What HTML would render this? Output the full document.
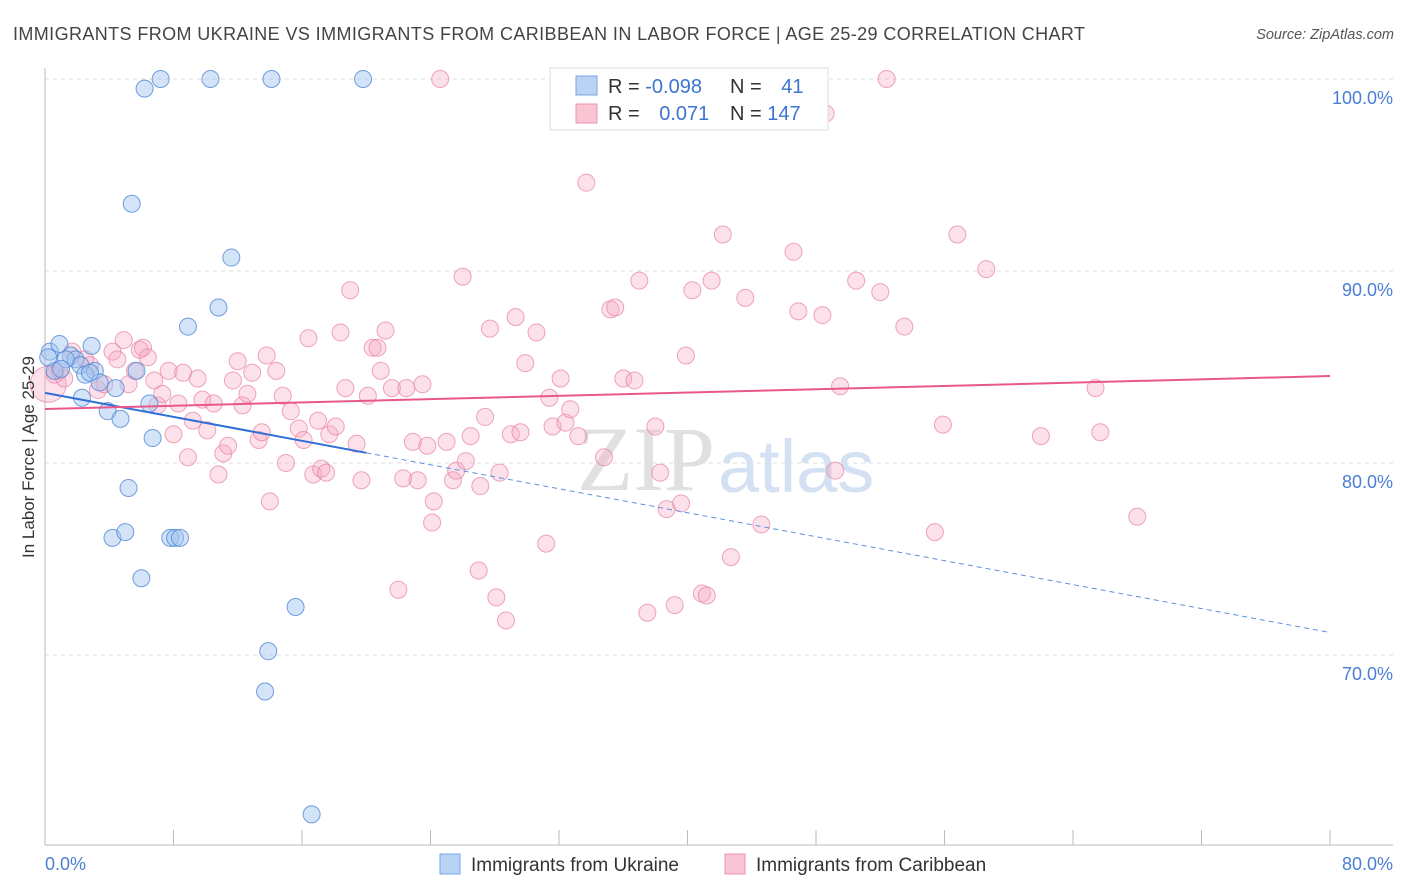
<!DOCTYPE html>
<html><head><meta charset="utf-8">
<style>
body{margin:0;background:#fff;font-family:"Liberation Sans",sans-serif;}
svg{display:block}
</style></head>
<body>
<svg id="chart" width="1406" height="892">
<text x="13" y="40" font-size="18" textLength="1072" fill="#444">IMMIGRANTS FROM UKRAINE VS IMMIGRANTS FROM CARIBBEAN IN LABOR FORCE | AGE 25-29 CORRELATION CHART</text>
<text x="1394" y="39" font-size="14.5" fill="#555" font-style="italic" text-anchor="end">Source: ZipAtlas.com</text>
<text x="715" y="490" font-size="92" fill="#e0e0e0" text-anchor="end" font-family="Liberation Serif">ZIP</text>
<text x="718" y="492" font-size="74" fill="#d3e1f3">atlas</text>
<g id="grid"></g><g id="axes"></g><g id="pts"></g><g id="trend"></g>
<g>
<rect x="550" y="68" width="278" height="62" fill="#fff" stroke="#ddd"/>
<rect x="576" y="76" width="21" height="19" fill="#b9d3f5" stroke="#7aa5e3"/>
<rect x="576" y="104" width="21" height="19" fill="#f9c5d5" stroke="#eb94b0"/>
<text x="608" y="93" font-size="20" fill="#333">R = <tspan fill="#3d74d0">-0.098</tspan></text>
<text x="730" y="93" font-size="20" fill="#333">N = <tspan fill="#3d74d0" dx="14">41</tspan></text>
<text x="608" y="120" font-size="20" fill="#333">R = <tspan fill="#3d74d0" dx="14">0.071</tspan></text>
<text x="730" y="120" font-size="20" fill="#333">N = <tspan fill="#3d74d0">147</tspan></text>
</g>
<g>
<rect x="440" y="854" width="20" height="20" fill="#b9d3f5" stroke="#7aa5e3"/>
<text x="471" y="871" font-size="19" fill="#333">Immigrants from Ukraine</text>
<rect x="725" y="854" width="20" height="20" fill="#f9c5d5" stroke="#eb94b0"/>
<text x="756" y="871" font-size="19" fill="#333">Immigrants from Caribbean</text>
</g>
<text transform="translate(34,457) rotate(-90)" font-size="17" fill="#333" text-anchor="middle">In Labor Force | Age 25-29</text>
</svg>
<script>
const yTicks=[100,90,80,70];
const yTickLabels=["100.0%","90.0%","80.0%","70.0%"];
const xEndLabels=["0.0%","80.0%"];
const ukraineX=[0.3,0.9,0.6,1.6,1.9,2.9,2.2,3.1,2.5,3.4,4.4,2.3,3.9,4.7,5.7,6.5,6.7,5.2,4.2,5.0,7.8,8.1,8.4,6.0,5.4,6.2,7.2,10.3,14.1,19.8,11.6,10.8,8.9,15.6,13.9,13.7,16.6,1.3,2.8,0.2,1.0];
const ukraineY=[85.8,86.2,84.8,85.6,85.4,86.1,85.1,84.8,84.6,84.2,83.9,83.4,82.7,82.3,84.8,83.1,81.3,78.7,76.1,76.4,76.1,76.1,76.1,74.0,93.5,99.5,100,100,100,100,90.7,88.1,87.1,72.5,70.2,68.1,61.7,85.4,84.7,85.5,84.9];
const caribX=[0.2,0.6,0.9,1.2,1.7,2.5,2.8,3.3,3.7,4.2,4.5,4.9,5.2,5.6,5.9,6.1,6.4,6.8,7.0,7.3,7.7,8.0,8.3,8.6,8.9,9.2,9.5,9.8,10.1,10.5,10.8,11.1,11.4,11.7,12.0,12.3,12.6,12.9,13.3,13.5,13.8,14.0,14.4,14.8,15.0,15.3,15.8,16.1,16.4,16.7,17.0,17.2,17.5,17.7,18.1,18.4,18.7,19.0,19.4,19.7,20.1,20.4,20.7,20.9,21.2,21.6,22.0,22.3,22.5,22.9,23.2,23.5,23.8,24.1,24.2,24.6,25.0,25.4,25.6,26.0,26.2,26.5,27.0,27.1,27.4,27.7,28.1,28.3,28.7,29.0,29.3,29.6,29.9,30.6,31.2,31.4,31.6,32.1,32.4,32.7,33.2,33.7,34.8,35.2,35.5,36.0,36.7,37.0,37.5,38.0,38.3,38.7,39.2,39.6,39.9,40.3,40.9,41.2,41.5,42.2,42.7,43.6,44.6,46.6,46.9,48.4,48.6,49.2,49.5,50.5,52.0,52.4,53.5,55.4,55.9,56.8,58.6,62.0,65.4,65.7,68.0];
const caribY=[84.1,84.6,84.8,84.4,85.8,85.4,85.1,83.8,84.1,85.8,85.4,86.4,84.1,84.8,85.9,86.0,85.5,84.3,83.0,83.6,84.8,81.5,83.1,84.7,80.3,82.2,84.4,83.3,81.7,83.1,79.4,80.5,80.9,84.3,85.3,83.0,83.6,84.7,81.2,81.6,85.6,78.0,84.8,83.5,80.0,82.7,81.8,81.2,86.5,79.4,82.2,79.7,79.5,81.5,81.9,86.8,83.9,89.0,81.0,79.1,83.5,86.0,86.0,84.8,86.9,83.9,73.4,79.2,83.9,81.1,79.1,84.1,80.9,76.9,78.0,100.0,81.1,79.1,79.6,89.7,80.1,81.4,74.4,78.8,82.4,87.0,73.0,79.5,71.8,81.5,87.6,81.6,85.2,86.8,75.8,83.4,81.9,84.4,82.1,82.8,81.4,94.6,80.3,88.0,88.1,84.4,84.3,89.5,72.2,81.9,79.5,77.6,72.6,77.9,85.6,89.0,73.2,73.1,89.5,91.9,75.1,88.6,76.8,91.0,87.9,87.7,98.2,79.6,84.0,89.5,88.9,100.0,87.1,76.4,82.0,91.9,90.1,81.4,83.9,81.6,77.2];
const ukraineTrend=[83.65,-0.156];
const caribTrend=[82.81,0.0215];
const NS="http://www.w3.org/2000/svg";
const X0=45,X1=1330,Y0=79,PPY=19.2;
function sx(v){return X0+(X1-X0)*v/80;}
function sy(v){return Y0+(100-v)*PPY;}
function mk(tag,attrs,parent){const e=document.createElementNS(NS,tag);for(const k in attrs)e.setAttribute(k,attrs[k]);parent.appendChild(e);return e;}
const grid=document.getElementById('grid'),axes=document.getElementById('axes'),pts=document.getElementById('pts'),tr=document.getElementById('trend');
yTicks.forEach((t,i)=>{
 const l=mk('line',{x1:X0,x2:1393,y1:sy(t),y2:sy(t),stroke:'#ddd','stroke-dasharray':'4,4'},grid);
 
 
 const tx=mk('text',{x:1393,y:sy(t)+25,'font-size':18,fill:'#4a7fd4','text-anchor':'end'},axes);
 tx.textContent=yTickLabels[i];
 
 
});
const ya=mk('line',{x1:X0,x2:X0,y1:68,y2:845,stroke:'#bbb'},axes);


const xa=mk('line',{x1:X0,x2:1393,y1:845,y2:845,stroke:'#bbb'},axes);


for(let v=0;v<=80;v+=8){
 const tk=mk('line',{x1:sx(v),x2:sx(v),y1:830,y2:845,stroke:'#bbb'},axes);
 
 
}
[[0,'start',45],[80,'end',1393]].forEach((d,i)=>{
 const t=mk('text',{x:d[2],y:870,'font-size':18,fill:'#4a7fd4','text-anchor':d[1]},axes);
 t.textContent=xEndLabels[i];
 
 
});
caribX.forEach((x,i)=>{
 const c=mk('circle',{cx:sx(x),cy:sy(caribY[i]),r:i===0?18:8.5,fill:'rgba(246,170,196,0.35)',stroke:'rgba(232,128,160,0.7)','stroke-width':1},pts);
 
 
});
ukraineX.forEach((x,i)=>{
 const c=mk('circle',{cx:sx(x),cy:sy(ukraineY[i]),r:8.5,fill:'rgba(160,196,240,0.45)',stroke:'rgba(80,135,215,0.8)','stroke-width':1},pts);
 
 
});
function ty(t,x){return t[0]+t[1]*x;}
const u1=mk('line',{x1:sx(0),y1:sy(ty(ukraineTrend,0)),x2:sx(20),y2:sy(ty(ukraineTrend,20)),stroke:'#2f6fd6','stroke-width':2},tr);


const u2=mk('line',{x1:sx(20),y1:sy(ty(ukraineTrend,20)),x2:sx(80),y2:sy(ty(ukraineTrend,80)),stroke:'#5b8fe0','stroke-width':1,'stroke-dasharray':'5,4'},tr);


const c1=mk('line',{x1:sx(0),y1:sy(ty(caribTrend,0)),x2:sx(80),y2:sy(ty(caribTrend,80)),stroke:'#e8588a','stroke-width':2},tr);


</script>
</body></html>
